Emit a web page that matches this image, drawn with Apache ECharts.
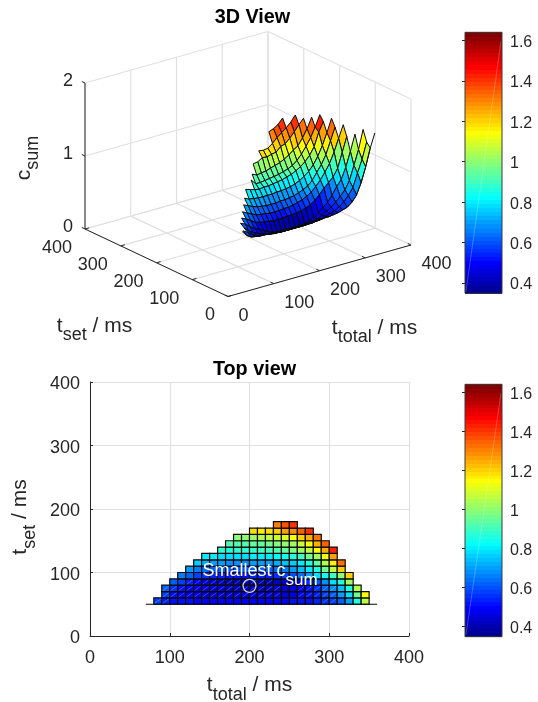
<!DOCTYPE html>
<html><head><meta charset="utf-8">
<style>html,body{margin:0;padding:0;background:#fff}#c{width:538px;height:702px}</style>
<script src="https://cdn.jsdelivr.net/npm/echarts@6/dist/echarts.min.js"></script>
</head><body><div id="c"></div>
<script>
// ---- data: c_sum on the (t_total, t_set) mesh, one array per t_set row ----
const tSetRows = [50,60,70,80,90,100,110,120,130,140,150,160,170,180];
const tTotalStart = [70,80,90,90,100,110,120,130,140,160,170,180,200,230];
const c50 = [.65,.58,.54,.53,.52,.52,.51,.51,.51,.51,.51,.51,.51,.51,.51,.51,.51,.51,.52,.52,.53,.54,.56,.58,.63,.71,.86,1.06,1.30,1.49];
const c60 = [.62,.58,.53,.50,.49,.48,.47,.46,.46,.46,.46,.46,.46,.46,.46,.46,.47,.48,.50,.52,.54,.58,.63,.70,.79,.97,1.14,1.36];
const c70 = [.62,.56,.52,.49,.47,.45,.44,.43,.42,.42,.42,.42,.42,.42,.43,.44,.46,.49,.53,.57,.62,.68,.75,.86,1.05,1.25,1.51];
const c80 = [.66,.63,.58,.54,.51,.47,.44,.42,.40,.39,.39,.39,.39,.40,.41,.43,.46,.50,.56,.61,.69,.79,.87,1.02,1.22,1.44];
const c90 = [.69,.66,.62,.58,.56,.55,.54,.53,.53,.53,.54,.54,.55,.56,.58,.61,.65,.71,.78,.84,.90,1.0,1.2,1.40];
const c100 = [.735,.70,.67,.64,.63,.62,.61,.61,.61,.62,.62,.63,.65,.67,.70,.74,.80,.87,.96,1.06,1.2,1.37,1.54];
const c110 = [.79,.76,.73,.71,.70,.69,.69,.69,.70,.70,.71,.72,.74,.77,.80,.86,.95,1.04,1.16,1.33,1.50];
const c120 = [.84,.81,.80,.79,.79,.79,.79,.80,.80,.81,.82,.84,.87,.91,.96,1.03,1.13,1.26,1.42,1.60];
const c130 = [.92,.90,.88,.87,.88,.88,.89,.90,.91,.93,.95,.98,1.02,1.07,1.14,1.24,1.42,1.55];
const c140 = [.99,.92,.92,.93,.94,.95,.96,.98,1.0,1.03,1.08,1.15,1.24,1.34,1.47,1.62];
const c150 = [1.03,1.0,1.01,1.02,1.04,1.06,1.08,1.11,1.15,1.2,1.24,1.33,1.44,1.58];
const c160 = [1.13,1.14,1.18,1.17,1.19,1.2,1.26,1.28,1.34,1.41,1.49,1.56];
const c170 = [1.25,1.24,1.25,1.3,1.36,1.41,1.46,1.52,1.6];
const c180 = [1.435,1.46,1.5,1.57];
const cSumRows = [c50,c60,c70,c80,c90,c100,c110,c120,c130,c140,c150,c160,c170,c180];

const smallest = [[200,79]];
const xyTicks = [0,100,200,300,400];
const zTicks = [0,1,2];
const barTicks = [0.4,0.6,0.8,1,1.2,1.4,1.6];
const cLimits = [0.349,1.64];
const glintCells = [[60,90,240],[60,260,310],[70,90,240],[70,260,310],[80,120,230],[50,80,100],[50,290,310]];

// ---- styling ----
const FONT='"Liberation Sans",Arial,sans-serif', INK='#262626', GRID='#e0e0e0', EDGE='#0a0a0a';

// MATLAB jet(64)
const jetMap=(()=>{const n=16,u=[];for(let i=1;i<=16;i++)u.push(i/16);for(let i=0;i<15;i++)u.push(1);for(let i=16;i>=1;i--)u.push(i/16);
  const out=[];for(let i=0;i<64;i++)out.push([0,0,0]);
  u.forEach((v,k)=>{const g=9+k,r=g+n,b=g-n;if(r<=64)out[r-1][0]=v;if(g<=64)out[g-1][1]=v;if(b>=1)out[b-1][2]=v;});
  return out.map(c=>'rgb('+c.map(v=>Math.round(v*255)).join(',')+')');})();
const colorOf=v=>jetMap[Math.max(0,Math.min(63,Math.floor((v-cLimits[0])/(cLimits[1]-cLimits[0])*64)))];

// mesh cells: a face exists only when all four corners exist
const at=(t,r)=>{const a=cSumRows[r],i=(t-tTotalStart[r])/10;return (i>=0&&i<a.length)?a[i]:null;};
const cells=[];
for(let r=0;r<tSetRows.length-1;r++){
  cSumRows[r].forEach((_,i)=>{
    const t=tTotalStart[r]+i*10;
    const q=[at(t,r),at(t+10,r),at(t+10,r+1),at(t,r+1)];
    if(q.every(v=>v!==null))cells.push([t,tSetRows[r],...q]);
  });
}
const glintOf=(t,s)=>glintCells.some(g=>g[0]===s&&t>=g[1]&&t<g[2]);

// orthographic view of the 3D box, expressed in the hidden grid's units
const project=(x,y,z)=>[228+.4575*x-.3575*y, 296.5-.12875*x-.16875*y-73*z];
const depth=c=>.3575*c[0]+.4575*c[1];
const cells3d=cells.slice().sort((a,b)=>depth(b)-depth(a));

// top view faces
function renderTop(p,api){
  const t=api.value(0),s=api.value(1),c=api.value(2);
  const pts=[[t,s],[t+10,s],[t+10,s+10],[t,s+10]].map(q=>api.coord(q));
  const kids=[{type:'polygon',shape:{points:pts},style:{fill:colorOf(c),stroke:EDGE,lineWidth:1.2}}];
  if(glintOf(t,s))kids.push({type:'line',shape:{x1:pts[0][0]+1,y1:pts[0][1]-1,x2:pts[2][0]-1,y2:pts[2][1]+1},style:{stroke:'rgba(255,255,255,.35)',lineWidth:.7}});
  return {type:'group',children:kids};
}
// 3D faces
function render3d(p,api){
  const t=api.value(0),s=api.value(1);
  const q=[[t,s,api.value(2)],[t+10,s,api.value(3)],[t+10,s+10,api.value(4)],[t,s+10,api.value(5)]];
  return {type:'polygon',shape:{points:q.map(v=>api.coord(project(v[0],v[1],v[2])))},style:{fill:colorOf(api.value(2)),stroke:EDGE,lineWidth:1}};
}
const segs3d=[];
const addSeg=(a,b,col,w)=>segs3d.push({a,b,col,w});
xyTicks.forEach(v=>{
  addSeg([v,0,0],[v,400,0],GRID,1.2); addSeg([0,v,0],[400,v,0],GRID,1.2);
  addSeg([v,400,0],[v,400,2],GRID,1.2); addSeg([400,v,0],[400,v,2],GRID,1.2);
});
zTicks.forEach(z=>{addSeg([0,400,z],[400,400,z],GRID,1.2);addSeg([400,0,z],[400,400,z],GRID,1.2);});
addSeg([0,400,0],[0,400,2],INK,1);addSeg([0,0,0],[0,400,0],INK,1);addSeg([0,0,0],[400,0,0],INK,1);
xyTicks.forEach(v=>{addSeg([0,v,0],[9,v,0],INK,1);addSeg([v,0,0],[v,9,0],INK,1);});
zTicks.forEach(z=>addSeg([0,400,z],[0,409,z],INK,1));

const labels3d=[];
xyTicks.forEach(v=>{
  labels3d.push({p:[0,v,0],dx:-13,dy:19,text:String(v),align:'right'});
  labels3d.push({p:[v,0,0],dx:10.5,dy:19.5,text:String(v),align:'left'});
});
zTicks.forEach(z=>labels3d.push({p:[0,400,z],dx:-12,dy:-2,text:String(z),align:'right'}));

const subRich={t:{fontSize:21,fontFamily:FONT,color:INK,fill:INK,verticalAlign:'top',height:21,lineHeight:29},
               s:{fontSize:18,fontFamily:FONT,color:INK,fill:INK,verticalAlign:'bottom',height:18,lineHeight:29}};
const titles3d=[
  {at:[94.5,330],text:'{t|t}{s|set}{t| / ms}',rot:0},
  {at:[374.5,332],text:'{t|t}{s|total}{t| / ms}',rot:0},
  {at:[28,158],text:'{t|c}{s|sum}',rot:Math.PI/2}
];

const bandData=jetMap.map((c,i)=>i);
const bandRender=(p,api)=>{
  const i=api.value(0),w=(cLimits[1]-cLimits[0])/64,lo=cLimits[0]+i*w;
  const a=api.coord([0,lo+w]),b=api.coord([1,lo]);
  const top=Math.floor(a[1]),bot=Math.ceil(b[1]);
  return {type:'rect',shape:{x:a[0],y:top,width:b[0]-a[0],height:bot-top},style:{fill:jetMap[i]}};
};
const boxRender=(p,api)=>{
  const a=api.coord([0,cLimits[1]]),b=api.coord([1,cLimits[0]]);
  return {type:'group',children:[
    {type:'line',shape:{x1:a[0]+1,y1:b[1]-2,x2:b[0]-1,y2:a[1]+9},style:{stroke:'rgba(255,255,255,.3)',lineWidth:.8}},
    {type:'rect',shape:{x:a[0],y:a[1],width:b[0]-a[0],height:b[1]-a[1]},style:{fill:'none',stroke:'#3a3a3a',lineWidth:1}}]};
};

const barGrid=(top,h)=>({left:465,top,width:37,height:h,outerBoundsMode:'none'});
const barX=g=>({gridIndex:g,type:'value',min:0,max:1,show:false});
const barY=g=>({gridIndex:g,type:'value',position:'right',min:cLimits[0],max:cLimits[1],
  splitLine:{show:false},axisLine:{show:false},
  axisTick:{show:true,inside:true,length:3,customValues:barTicks,lineStyle:{color:INK}},
  axisLabel:{show:true,customValues:barTicks,margin:8,verticalAlign:'top',lineHeight:4,fontSize:16,fontFamily:FONT,color:INK,formatter:v=>String(v)}});

const topAxis=(extra)=>Object.assign({type:'value',min:0,max:400,interval:100,nameLocation:'middle',
  axisLine:{show:true,onZero:false,lineStyle:{color:INK,width:1}},
  axisTick:{show:true,inside:true,length:3,lineStyle:{color:INK}},
  splitLine:{show:true,lineStyle:{color:GRID,width:1.2}}},extra);

const option={
  animation:false,backgroundColor:'#fff',
  title:[
    {text:'3D View',left:247.5,top:3,textAlign:'center',textStyle:{fontFamily:FONT,fontSize:19.8,fontWeight:'bold',color:'#000'}},
    {text:'Top view',left:249.5,top:355,textAlign:'center',textStyle:{fontFamily:FONT,fontSize:19.8,fontWeight:'bold',color:'#000'}}
  ],
  grid:[
    {left:90,top:382,width:319,height:254,outerBoundsMode:'none'},
    {left:0,top:0,width:538,height:702,outerBoundsMode:'none'},
    barGrid(32.3,261),
    barGrid(384.3,252.4)
  ],
  xAxis:[
    topAxis({gridIndex:0,name:'{t|t}{s|total}{t| / ms}',nameGap:39,nameTextStyle:{rich:subRich},axisLabel:{margin:13,fontSize:18,fontFamily:FONT,color:INK}}),
    {gridIndex:1,type:'value',min:0,max:538,show:false},
    barX(2),barX(3)
  ],
  yAxis:[
    topAxis({gridIndex:0,name:'{t|t}{s|set}{t| / ms}',nameGap:50,nameTextStyle:{rich:subRich,padding:[0,16,0,0]},axisLabel:{margin:10,verticalAlign:'top',lineHeight:5,fontSize:18,fontFamily:FONT,color:INK}}),
    {gridIndex:1,type:'value',min:0,max:702,inverse:true,show:false},
    barY(2),barY(3)
  ],
  series:[
    // 3D frame
    {type:'custom',xAxisIndex:1,yAxisIndex:1,silent:true,clip:false,z:1,data:segs3d.map((s,i)=>[i]),
     renderItem:(p,api)=>{const s=segs3d[api.value(0)],a=api.coord(project(...s.a)),b=api.coord(project(...s.b));
       return {type:'line',shape:{x1:a[0],y1:a[1],x2:b[0],y2:b[1]},style:{stroke:s.col,lineWidth:s.w}};}},
    // 3D surface
    {type:'custom',xAxisIndex:1,yAxisIndex:1,silent:true,clip:false,z:2,data:cells3d,renderItem:render3d},
    // free edge of the first t_set row
    {type:'line',xAxisIndex:1,yAxisIndex:1,silent:true,z:3,symbol:'none',lineStyle:{color:EDGE,width:1},
     data:c50.map((c,i)=>project(tTotalStart[0]+i*10,tSetRows[0],c))},
    // 3D tick labels
    {type:'custom',xAxisIndex:1,yAxisIndex:1,silent:true,clip:false,z:4,data:labels3d.map((s,i)=>[i]),
     renderItem:(p,api)=>{const l=labels3d[api.value(0)],a=api.coord(project(...l.p));
       return {type:'text',x:a[0]+l.dx,y:a[1]+l.dy,style:{text:l.text,align:l.align,verticalAlign:'middle',fill:INK,fontSize:18,fontFamily:FONT}};}},
    // 3D axis names
    {type:'custom',xAxisIndex:1,yAxisIndex:1,silent:true,clip:false,z:4,data:titles3d.map((s,i)=>[i]),
     renderItem:(p,api)=>{const l=titles3d[api.value(0)],a=api.coord(l.at);
       return {type:'text',x:a[0],y:a[1],rotation:l.rot,style:{text:l.text,rich:subRich,align:'center',verticalAlign:'middle'}};}},
    // top view
    {type:'custom',xAxisIndex:0,yAxisIndex:0,silent:true,clip:false,z:2,data:cells,renderItem:renderTop},
    {type:'line',xAxisIndex:0,yAxisIndex:0,silent:true,z:3,symbol:'none',lineStyle:{color:EDGE,width:1.2},
     data:c50.map((c,i)=>[tTotalStart[0]+i*10,tSetRows[0]])},
    {type:'scatter',xAxisIndex:0,yAxisIndex:0,silent:true,z:5,symbol:'circle',symbolSize:13,
     itemStyle:{color:'transparent',borderColor:'#fff',borderWidth:1.3},data:smallest,
     label:{show:false}},
    {type:'custom',xAxisIndex:0,yAxisIndex:0,silent:true,clip:false,z:6,data:[[141,95]],
     renderItem:(p,api)=>{const a=api.coord([api.value(0),api.value(1)]);
       const w={fontSize:18,fontFamily:FONT,color:'#fff',fill:'#fff'};
       return {type:'text',x:a[0],y:a[1],style:{text:'{t|Smallest c}{s|sum}',align:'left',verticalAlign:'middle',
         rich:{t:Object.assign({},w,{verticalAlign:'top',height:18,lineHeight:27}),
               s:Object.assign({},w,{fontSize:17,verticalAlign:'bottom',height:17,lineHeight:27})}}};}},
    // colour bars
    {type:'custom',xAxisIndex:2,yAxisIndex:2,silent:true,z:2,data:bandData,renderItem:bandRender,encode:{y:-1}},
    {type:'custom',xAxisIndex:2,yAxisIndex:2,silent:true,clip:false,z:3,data:[0],renderItem:boxRender},
    {type:'custom',xAxisIndex:3,yAxisIndex:3,silent:true,z:2,data:bandData,renderItem:bandRender,encode:{y:-1}},
    {type:'custom',xAxisIndex:3,yAxisIndex:3,silent:true,clip:false,z:3,data:[0],renderItem:boxRender}
  ]
};
const chart=echarts.init(document.getElementById('c'),null,{renderer:'canvas',width:538,height:702});
chart.setOption(option);
</script></body></html>
